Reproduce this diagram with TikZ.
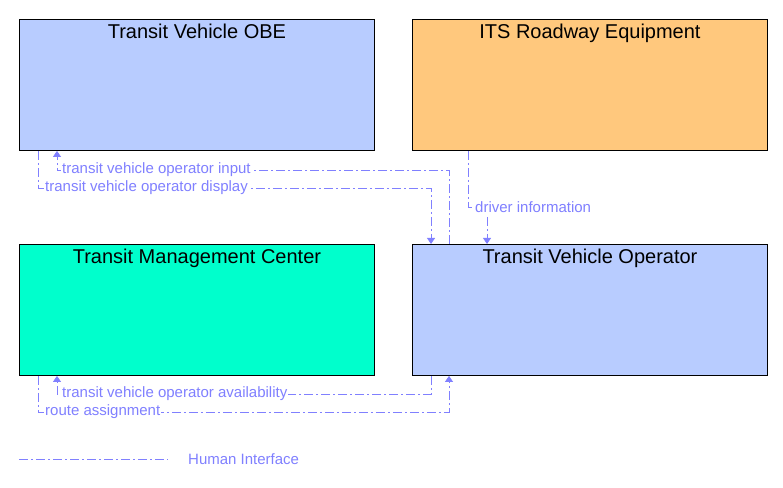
\documentclass[tikz,border=0pt]{standalone}
\usepackage{fontspec}
\setmainfont{Liberation Sans}
\usetikzlibrary{calc,arrows.meta}
\definecolor{obeblue}{HTML}{B8CCFF}
\definecolor{itsorange}{HTML}{FFC87D}
\definecolor{tmcaqua}{HTML}{00FFCC}
\definecolor{flowc}{HTML}{8080FF}
\begin{document}
\begin{tikzpicture}[x=1pt,y=1pt,
  ent/.style={draw=black,line width=0.9pt,minimum width=355pt,minimum height=131pt,anchor=north west,inner sep=0pt},
  ttl/.style={font=\fontsize{20}{22}\selectfont,anchor=base,inner sep=0pt},
  flow/.style={draw=flowc,line width=0.8pt,dash pattern=on 9pt off 3pt on 2pt off 3pt},
  arr/.style={-{Triangle[width=8pt,length=6pt]}},
  lbl/.style={font=\fontsize{15}{17}\selectfont,text=flowc,fill=white,inner sep=1pt,anchor=west}]
\useasboundingbox (0,0) rectangle (783,487);
\node[ent,fill=obeblue] (obe) at (19,468) {};
\node[ent,fill=itsorange] (its) at (412,468) {};
\node[ent,fill=tmcaqua] (tmc) at (19,243) {};
\node[ent,fill=obeblue] (tvo) at (412,243) {};
\node[ttl] (obet) at ($(obe.north)+(0,-19.5)$) {Transit Vehicle OBE};
\node[ttl] (itst) at ($(its.north)+(0,-19.5)$) {ITS Roadway Equipment};
\node[ttl] (tmct) at ($(tmc.north)+(0,-19.5)$) {Transit Management Center};
\node[ttl] (tvot) at ($(tvo.north)+(0,-19.5)$) {Transit Vehicle Operator};
% transit vehicle operator input
\coordinate (a1) at ($(tvo.north west)+(37,0)$);
\coordinate (a2) at ($(obe.south west)+(38,0)$);
\draw[flow,arr] (a1) -- (a1 |- 0,317) -- (a2 |- 0,317) -- (a2);
\node[lbl] (l1) at (61,317) {transit vehicle operator input};
% transit vehicle operator display
\coordinate (b1) at ($(obe.south west)+(19,0)$);
\coordinate (b2) at ($(tvo.north west)+(19,0)$);
\draw[flow,arr] (b1) -- (b1 |- 0,299) -- (b2 |- 0,299) -- (b2);
\node[lbl] (l2) at (44,299) {transit vehicle operator display};
% driver information
\coordinate (c1) at ($(its.south west)+(56,0)$);
\coordinate (c2) at ($(tvo.north west)+(75,0)$);
\draw[flow,arr] (c1) -- (c1 |- 0,280) -- (c2 |- 0,280) -- (c2);
\node[lbl] (l3) at (474,280) {driver information};
% transit vehicle operator availability
\coordinate (d1) at ($(tvo.south west)+(19,0)$);
\coordinate (d2) at ($(tmc.south west)+(38,0)$);
\draw[flow,arr] (d1) -- (d1 |- 0,93) -- (d2 |- 0,93) -- (d2);
\node[lbl] (l4) at (61,93) {transit vehicle operator availability};
% route assignment
\coordinate (e1) at ($(tmc.south west)+(19,0)$);
\coordinate (e2) at ($(tvo.south west)+(37,0)$);
\draw[flow,arr] (e1) -- (e1 |- 0,75) -- (e2 |- 0,75) -- (e2);
\node[lbl] (l5) at (44,75) {route assignment};
% legend
\coordinate (g1) at (19,28);
\coordinate (g2) at (168,28);
\draw[flow] (g1) -- (g2);
\node[lbl,fill=none] (gl) at (187,28) {Human Interface};
\end{tikzpicture}
\end{document}
